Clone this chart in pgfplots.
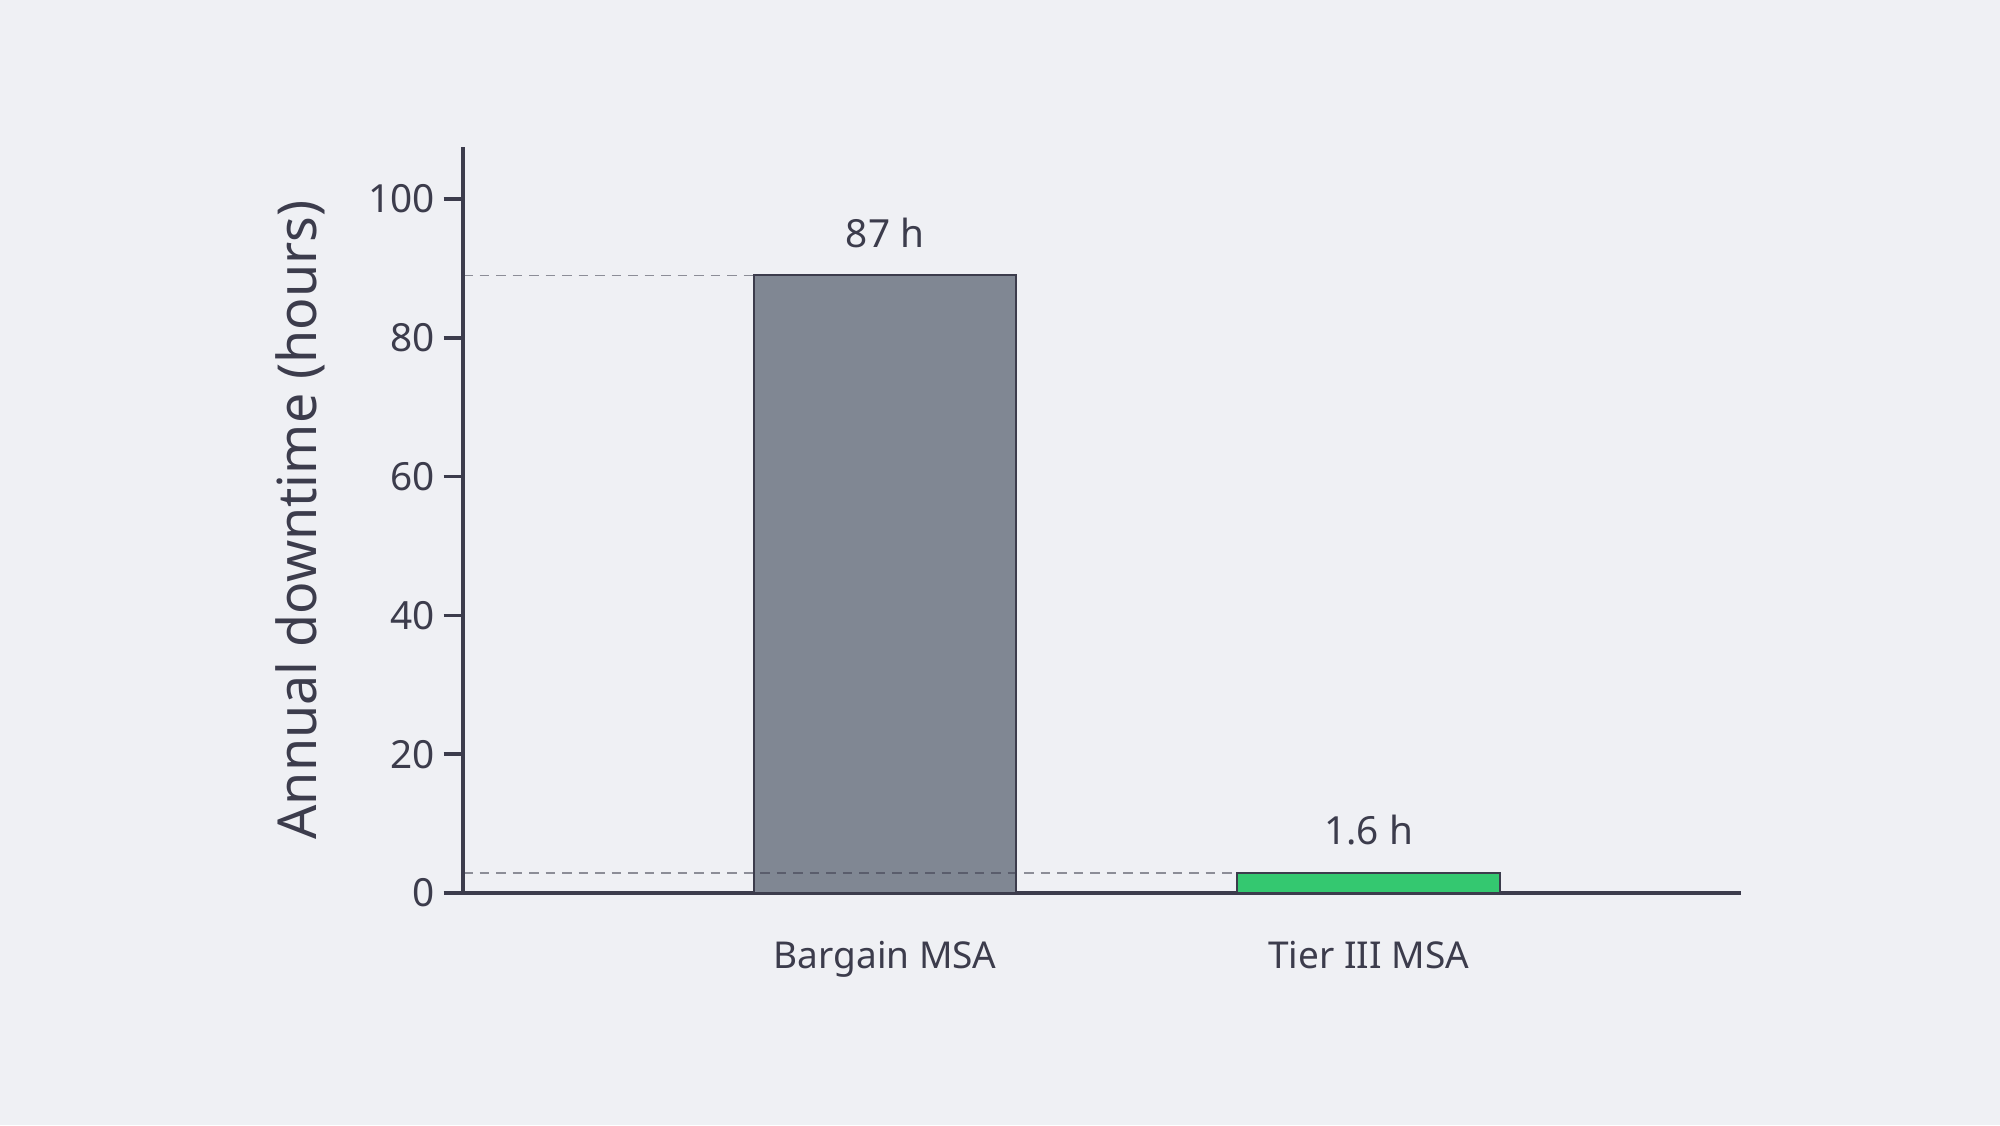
\documentclass[border=0pt]{standalone}
\usepackage{pgfplots}
\pgfplotsset{compat=1.18}
\usepackage{fontspec}
\setmainfont{Noto Sans}

\definecolor{bg}{HTML}{EFF0F4}
\definecolor{ink}{HTML}{3C3C4C}
\definecolor{barGray}{HTML}{808793}
\definecolor{barGreen}{HTML}{34C870}

\begin{document}
\begin{tikzpicture}
\fill[bg] (0,0) rectangle (800pt,450pt);
\begin{axis}[%
at={(185.2pt,92.8pt)},
anchor=south west,
scale only axis,
width=511.2pt,
height=298.4pt,
xmin=-0.873,
xmax=1.770,
ymin=0,
ymax=107.5,
axis x line*=bottom,
axis y line*=left,
axis line style={ink,line width=1.4pt,-},
xtick={0,1},
xticklabels={Bargain MSA,Tier III MSA},
xtick style={draw=none},
ytick={0,20,40,60,80,100},
ytick style={ink,line width=1.4pt},
tick align=outside,
major tick length=7.7pt,
tick label style={font=\fontsize{15.5}{18}\selectfont,text=ink},
xticklabel style={font=\fontsize{14.8}{18}\selectfont,anchor=base,yshift=-22.4pt},
ylabel={Annual downtime (hours)},
ylabel style={font=\fontsize{21.5}{25}\selectfont,text=ink,at={(axis description cs:-0.127,0.5)},anchor=center},
/pgf/number format/assume math mode=true,
bar width=0.543,
nodes near coords,
point meta=explicit symbolic,
every node near coord/.append style={font=\fontsize{15.5}{18}\selectfont,text=ink,anchor=center,yshift=17pt},
clip=false
]
\addplot[ybar,draw=ink,line width=0.8pt,fill=barGray] coordinates {(0,89.0) [87 h]};
\addplot[ybar,draw=ink,line width=0.8pt,fill=barGreen] coordinates {(1,2.9) [1.6 h]};
\addplot[draw=ink,draw opacity=0.55,dash pattern=on 3.8pt off 2.8pt,line width=0.6pt,nodes near coords={},forget plot] coordinates {(-0.873,89.0) (-0.2715,89.0)};
\addplot[draw=ink,draw opacity=0.55,dash pattern=on 3.8pt off 2.8pt,line width=0.6pt,nodes near coords={},forget plot] coordinates {(-0.873,2.9) (0.7285,2.9)};
\end{axis}
\end{tikzpicture}
\end{document}
